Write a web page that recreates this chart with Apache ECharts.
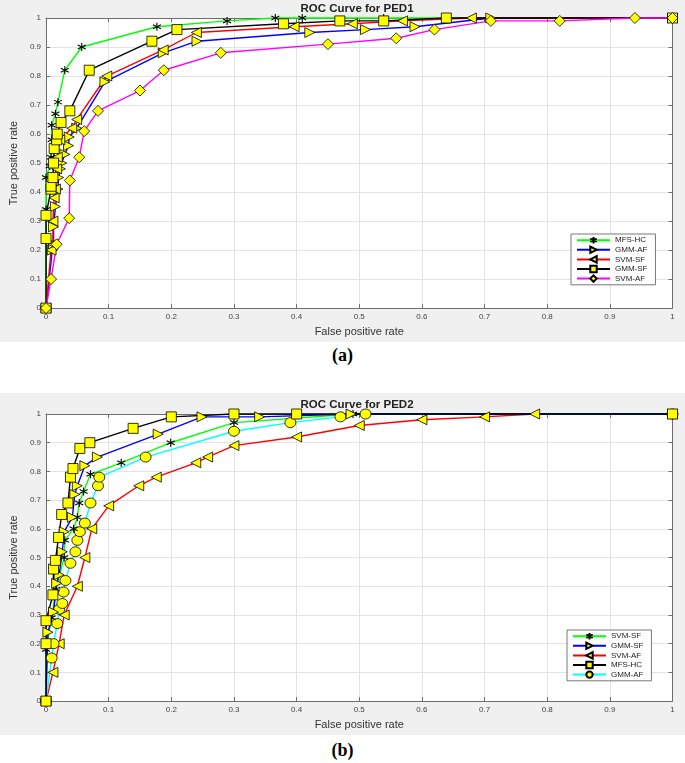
<!DOCTYPE html>
<html>
<head>
<meta charset="utf-8">
<script src="https://cdn.jsdelivr.net/npm/echarts@6/dist/echarts.min.js"></script>
<style>
  body { margin: 0; background: #fff; }
  #page { position: relative; width: 685px; height: 763px; overflow: hidden; }
  .chart { position: absolute; left: 0; width: 685px; height: 342px; }
  .cap { position: absolute; width: 685px; text-align: center; font-family: "Liberation Serif", serif; font-weight: bold; font-size: 18px; color: #000; }
</style>
</head>
<body>
<div id="page">
  <div id="chartA" class="chart" style="top:0"></div>
  <div class="cap" style="top:345px">(a)</div>
  <div id="chartB" class="chart" style="top:393px"></div>
  <div class="cap" style="top:740px">(b)</div>
</div>
<script>
// ---- data: (a) ROC Curve for PED1, points are [false positive rate, true positive rate]
const legendA = ['MFS-HC', 'GMM-AF', 'SVM-SF', 'GMM-SF', 'SVM-AF'];
const a_MFS_HC = [[0,0],[0,0.34],[0,0.45],[0.006,0.49],[0.008,0.52],[0.009,0.58],[0.009,0.63],[0.015,0.67],[0.019,0.71],[0.03,0.82],[0.057,0.9],[0.177,0.97],[0.289,0.99],[0.366,1],[0.409,1],[0.539,1],[1,1]];
const a_GMM_AF = [[0,0],[0.01,0.2],[0.012,0.22],[0.012,0.28],[0.015,0.35],[0.019,0.41],[0.02,0.45],[0.023,0.48],[0.025,0.5],[0.03,0.53],[0.036,0.56],[0.037,0.59],[0.049,0.62],[0.094,0.78],[0.187,0.88],[0.241,0.92],[0.421,0.95],[0.51,0.96],[0.589,0.97],[0.71,1],[1,1]];
const a_SVM_SF = [[0,0],[0.008,0.2],[0.011,0.22],[0.011,0.3],[0.013,0.38],[0.015,0.41],[0.017,0.48],[0.018,0.52],[0.022,0.58],[0.041,0.62],[0.049,0.65],[0.097,0.8],[0.187,0.89],[0.24,0.95],[0.396,0.97],[0.489,0.98],[0.569,0.99],[0.679,1],[1,1]];
const a_GMM_SF = [[0,0],[0,0.24],[0,0.32],[0.008,0.41],[0.008,0.42],[0.011,0.45],[0.012,0.5],[0.013,0.55],[0.017,0.58],[0.018,0.6],[0.024,0.64],[0.038,0.68],[0.069,0.82],[0.169,0.92],[0.209,0.96],[0.379,0.98],[0.469,0.99],[0.539,0.99],[0.639,1],[1,1]];
const a_SVM_AF = [[0,0],[0.008,0.1],[0.017,0.22],[0.037,0.31],[0.038,0.44],[0.053,0.52],[0.061,0.61],[0.083,0.68],[0.15,0.75],[0.188,0.82],[0.279,0.88],[0.45,0.91],[0.559,0.93],[0.62,0.96],[0.71,0.99],[0.82,0.99],[0.94,1],[1,1]];

// ---- data: (b) ROC Curve for PED2
const legendB = ['SVM-SF', 'GMM-SF', 'SVM-AF', 'MFS-HC', 'GMM-AF'];
const b_SVM_SF = [[0,0],[0,0.18],[0.009,0.29],[0.016,0.39],[0.029,0.5],[0.03,0.56],[0.044,0.6],[0.05,0.64],[0.053,0.69],[0.06,0.73],[0.071,0.79],[0.12,0.83],[0.199,0.9],[0.3,0.97],[0.49,1],[1,1]];
const b_GMM_SF = [[0,0],[0.003,0.24],[0.012,0.31],[0.017,0.41],[0.021,0.44],[0.026,0.52],[0.029,0.59],[0.042,0.64],[0.046,0.72],[0.05,0.75],[0.062,0.82],[0.082,0.85],[0.179,0.93],[0.249,0.99],[0.341,0.99],[0.487,1],[1,1]];
const b_SVM_AF = [[0,0],[0.011,0.1],[0.021,0.2],[0.029,0.3],[0.05,0.4],[0.062,0.5],[0.073,0.6],[0.1,0.68],[0.148,0.75],[0.176,0.78],[0.239,0.83],[0.258,0.85],[0.3,0.89],[0.4,0.92],[0.5,0.96],[0.6,0.98],[0.7,0.99],[0.78,1],[1,1]];
const b_MFS_HC = [[0,0],[0,0.2],[0,0.28],[0.011,0.37],[0.012,0.46],[0.015,0.49],[0.02,0.57],[0.025,0.65],[0.035,0.69],[0.039,0.78],[0.043,0.81],[0.054,0.88],[0.07,0.9],[0.139,0.95],[0.2,0.99],[0.3,1],[0.4,1],[1,1]];
const b_GMM_AF = [[0,0],[0.009,0.15],[0.012,0.2],[0.018,0.27],[0.021,0.32],[0.026,0.34],[0.028,0.38],[0.031,0.42],[0.039,0.48],[0.047,0.52],[0.05,0.56],[0.054,0.59],[0.062,0.62],[0.071,0.69],[0.083,0.75],[0.085,0.78],[0.159,0.85],[0.3,0.94],[0.39,0.97],[0.47,0.99],[0.51,1],[1,1]];

// marker shapes (MATLAB style)
const STAR = 'path://M5,0 L5,10 M0.7,2.5 L9.3,7.5 M0.7,7.5 L9.3,2.5';
const TRI_R = 'path://M0,0 L10,5 L0,10 Z';
const TRI_L = 'path://M10,0 L0,5 L10,10 Z';
const FONT = '"Liberation Sans", Arial, sans-serif';

function line(name, data, color, symbol, size) {
  const star = symbol === STAR;
  return {
    name, type: 'line', data, symbol, symbolSize: size,
    showAllSymbol: true, clip: false, animation: false,
    lineStyle: { color, width: 1.4 },
    itemStyle: star
      ? { color: '#000', borderColor: '#000', borderWidth: 1.1 }
      : { color: '#ffff00', borderColor: '#000', borderWidth: 0.8 },
    emphasis: { disabled: true }
  };
}

function axisBase(pos) {
  return {
    type: 'value', min: 0, max: 1, interval: 0.1, position: pos,
    axisLine: { show: true, onZero: false, lineStyle: { color: '#6e6e6e', width: 1 } },
    axisTick: { show: true, inside: true, length: 4, lineStyle: { color: '#6e6e6e' } },
    splitLine: { show: false }
  };
}

function buildOption(title, titleTop, gridTop, legendNames, legendPos, series) {
  const xMain = Object.assign(axisBase('bottom'), {
    axisLabel: { fontSize: 8, color: '#444', margin: 5, fontFamily: FONT },
    splitLine: { show: true, lineStyle: { color: '#e2e2e8' } },
    name: 'False positive rate', nameLocation: 'middle', nameGap: 17,
    nameTextStyle: { fontSize: 11, color: '#333', fontFamily: FONT }
  });
  const yMain = Object.assign(axisBase('left'), {
    axisLabel: { fontSize: 8, color: '#444', margin: 5, fontFamily: FONT },
    splitLine: { show: true, lineStyle: { color: '#e2e2e8' } },
    name: 'True positive rate', nameLocation: 'middle', nameGap: 27,
    nameTextStyle: { fontSize: 11, color: '#333', fontFamily: FONT }
  });
  const xTop = Object.assign(axisBase('top'), { axisLabel: { show: false } });
  const yRight = Object.assign(axisBase('right'), { axisLabel: { show: false } });
  return {
    backgroundColor: '#f0f0f0',
    animation: false,
    title: {
      text: title, left: 357, top: titleTop, textAlign: 'center', padding: 0,
      textStyle: { fontSize: 11.5, fontWeight: 'bold', color: '#222', fontFamily: FONT }
    },
    grid: { left: 42.5, top: gridTop, width: 630, height: 296, show: true, backgroundColor: '#fff', borderWidth: 0 },
    xAxis: [xMain, xTop],
    yAxis: [yMain, yRight],
    legend: {
      data: legendNames, orient: 'vertical', left: legendPos[0], top: legendPos[1],
      itemWidth: 33, itemHeight: 8, itemGap: 1.2, padding: [2, 8, 2, 5],
      borderColor: '#555', borderWidth: 0.8, backgroundColor: '#fff',
      selectedMode: false,
      textStyle: { fontSize: 8, lineHeight: 8, color: '#222', fontFamily: FONT }
    },
    series
  };
}

const chartA = echarts.init(document.getElementById('chartA'));
chartA.setOption(buildOption('ROC Curve for PED1', 3, 18, legendA, [571, 234], [
  line('MFS-HC', a_MFS_HC, '#00ff00', STAR, 8),
  line('GMM-AF', a_GMM_AF, '#0000ff', TRI_R, 10),
  line('SVM-SF', a_SVM_SF, '#ff0000', TRI_L, 10),
  line('GMM-SF', a_GMM_SF, '#000000', 'rect', 10),
  line('SVM-AF', a_SVM_AF, '#ff00ff', 'diamond', 11)
]));

const chartB = echarts.init(document.getElementById('chartB'));
chartB.setOption(buildOption('ROC Curve for PED2', 6, 21, legendB, [567, 237], [
  line('SVM-AF', b_SVM_AF, '#ff0000', TRI_L, 10),
  line('GMM-AF', b_GMM_AF, '#00ffff', 'circle', [11, 10]),
  line('SVM-SF', b_SVM_SF, '#00ff00', STAR, 8),
  line('GMM-SF', b_GMM_SF, '#0000ff', TRI_R, 10),
  line('MFS-HC', b_MFS_HC, '#000000', 'rect', 10)
]));
</script>
</body>
</html>
